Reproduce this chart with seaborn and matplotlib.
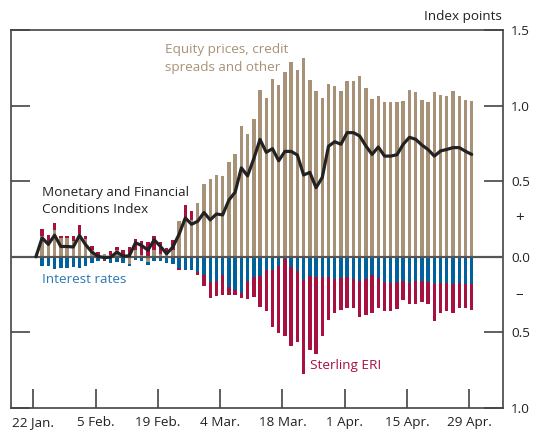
import numpy as np
import matplotlib
matplotlib.use("Agg")
import matplotlib.pyplot as plt
import seaborn as sns

# ----- data (business days, 22 Jan = 0 ... 29 Apr = 70) -----
tick_labels = ['22 Jan.', '5 Feb.', '19 Feb.', '4 Mar.', '18 Mar.', '1 Apr.', '15 Apr.', '29 Apr.']

# contributions, one bar per day from 23 Jan
equity = [0.135, 0.090, 0.180, 0.124, 0.124, 0.105, 0.152, 0.119, 0.046, 0.010,
          0.020, 0.010, 0.048, 0.010, -0.045, 0.048, 0.015, -0.035, 0.048, 0.020,
          0.026, 0.044, 0.234, 0.260, 0.245, 0.355, 0.483, 0.514, 0.543, 0.532,
          0.625, 0.682, 0.863, 0.815, 0.914, 1.106, 1.051, 1.179, 1.139, 1.223,
          1.289, 1.238, 1.316, 1.172, 1.099, 1.051, 1.146, 1.132, 1.095, 1.161,
          1.161, 1.194, 1.117, 1.046, 1.062, 1.022, 1.022, 1.022, 1.033, 1.101,
          1.088, 1.035, 1.022, 1.088, 1.073, 1.066, 1.095, 1.062, 1.040, 1.028]
rates = [-0.060, -0.064, -0.082, -0.071, -0.071, -0.070, -0.071, -0.060, -0.042, -0.031,
         -0.020, -0.040, -0.035, -0.040, -0.015, -0.022, -0.030, -0.020, -0.025, -0.030,
         -0.040, -0.045, -0.075, -0.088, -0.090, -0.100, -0.120, -0.170, -0.160, -0.120,
         -0.200, -0.220, -0.240, -0.160, -0.135, -0.130, -0.085, -0.085, -0.058, -0.014,
         -0.067, -0.096, -0.151, -0.124, -0.136, -0.136, -0.136, -0.146, -0.141, -0.135,
         -0.148, -0.163, -0.148, -0.119, -0.141, -0.170, -0.174, -0.170, -0.163, -0.174,
         -0.163, -0.163, -0.170, -0.179, -0.174, -0.174, -0.179, -0.174, -0.179, -0.179]
sterling = [0.050, 0.056, 0.045, 0.015, 0.015, 0.030, 0.060, 0.020, 0.027, 0.023,
            -0.005, 0.027, 0.018, 0.034, 0.066, 0.067, 0.089, 0.099, 0.089, 0.079,
            0.034, 0.066, -0.010, 0.085, 0.060, -0.020, -0.070, -0.100, -0.100, -0.135,
            -0.050, -0.035, -0.035, -0.120, -0.130, -0.200, -0.275, -0.379, -0.446, -0.512,
            -0.525, -0.469, -0.624, -0.490, -0.506, -0.390, -0.279, -0.225, -0.210, -0.205,
            -0.192, -0.232, -0.236, -0.250, -0.195, -0.186, -0.182, -0.177, -0.126, -0.137,
            -0.148, -0.133, -0.143, -0.243, -0.199, -0.182, -0.194, -0.166, -0.163, -0.172]
# MFCI, starting at zero on 22 Jan
mfci = [0.0, 0.125, 0.082, 0.143, 0.068, 0.068, 0.065, 0.141, 0.079, 0.031, 0.002,
        -0.005, -0.003, 0.031, 0.004, 0.006, 0.093, 0.074, 0.044, 0.112, 0.069,
        0.020, 0.065, 0.149, 0.257, 0.215, 0.235, 0.293, 0.244, 0.283, 0.277,
        0.375, 0.427, 0.588, 0.535, 0.649, 0.776, 0.691, 0.715, 0.635, 0.697,
        0.697, 0.673, 0.541, 0.558, 0.457, 0.525, 0.731, 0.761, 0.744, 0.821,
        0.821, 0.799, 0.733, 0.677, 0.726, 0.666, 0.666, 0.675, 0.744, 0.790,
        0.777, 0.739, 0.709, 0.666, 0.700, 0.710, 0.722, 0.722, 0.698, 0.677]

# colours
c_eq = '#A89277'
c_ir = '#00619D'
c_st = '#A8103F'
c_line = '#222222'
c_axis = '#444444'

# ----- plot -----
sns.set_style('white')
plt.rcParams['font.family'] = ['Open Sans', 'DejaVu Sans']

fig = plt.figure(figsize=(5.34, 4.32), dpi=100)
ax = fig.add_axes([0.0206, 0.0556, 0.921, 0.875])

eq = np.array(equity)
ir = np.array(rates)
st = np.array(sterling)
xb = np.arange(1, len(eq) + 1)
w = 0.55

# positive side: equity first, sterling on top when positive
eq_pos = np.clip(eq, 0, None)
st_pos = np.clip(st, 0, None)
ax.bar(xb, eq_pos, width=w, color=c_eq, linewidth=0, zorder=2)
ax.bar(xb, st_pos, bottom=eq_pos, width=w, color=c_st, linewidth=0, zorder=2)
# negative side: equity, rates, then sterling
eq_neg = np.clip(eq, None, 0)
st_neg = np.clip(st, None, 0)
ax.bar(xb, eq_neg, width=w, color=c_eq, linewidth=0, zorder=2)
ax.bar(xb, ir, bottom=eq_neg, width=w, color=c_ir, linewidth=0, zorder=2)
ax.bar(xb, st_neg, bottom=eq_neg + ir, width=w, color=c_st, linewidth=0, zorder=2)

ax.axhline(0, color='#555555', lw=1.6, zorder=3)

sns.lineplot(x=np.arange(len(mfci)), y=mfci, color=c_line, lw=2.3, ax=ax, zorder=4)

ax.set_xlim(-4, 75)
ax.set_ylim(-1.0, 1.5)

ax.set_xticks(np.arange(0, 71, 10) - 0.4)
ax.set_xticklabels(tick_labels, fontsize=9.7, color='#222222')
yt = [-1.0, -0.5, 0.0, 0.5, 1.0, 1.5]
ax.set_yticks(yt)
ax.set_yticklabels(['%.1f' % abs(v) for v in yt], fontsize=9.7, color='#222222')

ax.tick_params(axis='x', direction='in', length=14, width=1.2, color=c_axis, pad=6,
               bottom=True, top=False)
ax.tick_params(axis='y', direction='in', length=14, width=1.2, color=c_axis, pad=6,
               left=True, right=True, labelleft=False, labelright=True)

for s in ax.spines.values():
    s.set_color(c_axis)
    s.set_linewidth(1.2)

# sign markers on the right axis
ax.text(1.025, 0.25, '+', transform=ax.get_yaxis_transform(), fontsize=11,
        ha='left', va='center', color='#222222')
ax.text(1.025, -0.25, '\u2013', transform=ax.get_yaxis_transform(), fontsize=11,
        ha='left', va='center', color='#222222')
fig.text(0.94, 0.962, 'Index points', fontsize=9.7, ha='right', va='center', color='#222222')

# series labels
ax.text(20.8, 1.31, 'Equity prices, credit\nspreads and other', fontsize=9.7,
        color=c_eq, ha='left', va='center', linespacing=1.55)
ax.text(1, 0.37, 'Monetary and Financial\nConditions Index', fontsize=9.7,
        color='#222222', ha='left', va='center', linespacing=1.45)
ax.text(1, -0.15, 'Interest rates', fontsize=9.7, color='#2B79B3', ha='left', va='center')
ax.text(44.0, -0.72, 'Sterling ERI', fontsize=9.7, color=c_st, ha='left', va='center')

fig.savefig('out.png', dpi=100)
